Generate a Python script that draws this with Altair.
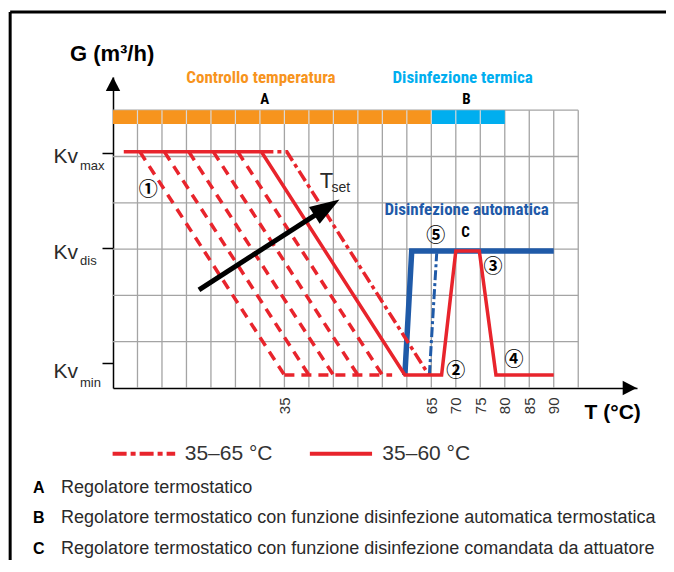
import altair as alt
import pandas as pd

# ---------------- values ----------------
X_TICKS = [35, 65, 70, 75, 80, 85, 90]
KV_NAMES = ["max", "dis", "min"]
KV_LEVELS = [5.08, 3.03, 0.53]

GRID_COLS = list(range(5, 100, 5))
GRID_ROWS = [1, 2, 3, 4, 5, 6]
GRID_T_MAX = 95
GRID_G_MAX = 6

BAND_LABELS = ["Controllo temperatura", "Disinfezione termica"]
BAND_LETTERS = ["A", "B"]
BAND_FROM = [0, 65]
BAND_TO = [65, 80]
BAND_LOW = 5.70
BAND_HIGH = 6.0

# 35-60 °C setting + actuator disinfection (solid red)
SOLID_T = [2.2, 30.3, 59.6, 67.1, 70.0, 74.8, 78.2, 90.0]
SOLID_G = [5.10, 5.10, 0.28, 0.28, 2.96, 2.96, 0.28, 0.28]
# 35-65 °C setting (dash-dot red)
DASHDOT_T = [30.3, 35.5, 64.5]
DASHDOT_G = [5.10, 5.10, 0.28]
# intermediate settings (dashed red)
DASHED_TOP_T = [5.5, 10.5, 15.5, 20.5, 25.5]
DASHED_BOTTOM_T = [35, 40, 45, 50, 55]
DASHED_TOP_G = 5.10
DASHED_BOTTOM_G = 0.28
DASHED_FLOOR_T = [35, 57]
# automatic thermal disinfection (blue)
BLUE_T = [59.6, 61.0, 90.0]
BLUE_G = [0.28, 2.96, 2.96]
BLUE_DD_T = [64.6, 66.1]
BLUE_DD_G = [0.28, 2.91]
# T_set arrow
TSET_T = [17.55, 43.4]
TSET_G = [2.12, 3.88]

CIRCLED = ["①", "②", "③", "④", "⑤"]
CIRCLED_T = [7.2, 70.0, 77.6, 81.9, 65.9]
CIRCLED_G = [4.28, 0.37, 2.62, 0.60, 3.29]

LEGEND_TEXT = ["35–65 °C", "35–60 °C"]
NOTES_LETTER = ["A", "B", "C"]
NOTES_TEXT = [
    "Regolatore termostatico",
    "Regolatore termostatico con funzione disinfezione automatica termostatica",
    "Regolatore termostatico con funzione disinfezione comandata da attuatore",
]

RED = "#E8242C"
BLUE = "#1F5AA8"
ORANGE = "#F7941D"
LBLUE = "#00AEEF"
GRID = "#A4A4A4"
TXT = "#2a2a2a"
NARROW = ("Liberation Sans Narrow, Noto Sans ExtraCondensed, Noto Sans Condensed, "
          "Roboto Condensed, Arial Narrow, DejaVu Sans Condensed, sans-serif")
SANS = "Liberation Sans, Arial, Helvetica, sans-serif"

# ---------------- scales / axes ----------------
SX = alt.Scale(domain=[0, 107], nice=False, zero=False)
SY = alt.Scale(domain=[0, 6.717], nice=False, zero=False)
AX = alt.Axis(values=X_TICKS, labelAngle=270, ticks=False, grid=False,
              domainColor="black", domainWidth=1.5, labelFontSize=15,
              labelColor="#333333", labelFont=SANS, labelPadding=9,
              labelFlush=False, labelOverlap=False, title=None)
AY = alt.Axis(values=KV_LEVELS, labels=False, ticks=True, tickColor="black",
              tickSize=11, tickWidth=1.5, grid=False, domainColor="black",
              domainWidth=1.5, title=None)


def X(f="T"):
    return alt.X(f + ":Q", scale=SX, axis=AX, title=None)


def Y(f="G"):
    return alt.Y(f + ":Q", scale=SY, axis=AY, title=None)


def line_df(ts, gs, key=0):
    return pd.DataFrame({"T": ts, "G": gs, "i": list(range(len(ts))), "k": [key] * len(ts)})


layers = []

# grid
vgrid = pd.DataFrame({"T": GRID_COLS, "G": [0] * len(GRID_COLS), "G2": [GRID_G_MAX] * len(GRID_COLS)})
hgrid = pd.DataFrame({"G": GRID_ROWS, "T": [0] * len(GRID_ROWS), "T2": [GRID_T_MAX] * len(GRID_ROWS)})
layers.append(alt.Chart(vgrid).mark_rule(color=GRID, strokeWidth=1.3).encode(x=X(), y=Y(), y2="G2:Q"))
layers.append(alt.Chart(hgrid).mark_rule(color=GRID, strokeWidth=1.3).encode(y=Y(), x=X(), x2="T2:Q"))

# band
band = pd.DataFrame({"T": BAND_FROM, "T2": BAND_TO, "G": [BAND_LOW] * 2, "G2": [BAND_HIGH] * 2,
                     "c": [ORANGE, LBLUE]})
layers.append(alt.Chart(band).mark_rect().encode(x=X(), x2="T2:Q", y=Y(), y2="G2:Q",
                                                  color=alt.Color("c:N", scale=None)))
sep_t = [t for t in GRID_COLS if t < BAND_TO[-1]]
sep = pd.DataFrame({"T": sep_t, "G": [BAND_LOW] * len(sep_t), "G2": [BAND_HIGH] * len(sep_t)})
layers.append(alt.Chart(sep).mark_rule(color="#d8d8d8", strokeWidth=1.2).encode(x=X(), y=Y(), y2="G2:Q"))

# blue (under the red lines)
layers.append(alt.Chart(line_df(BLUE_T, BLUE_G)).mark_line(color=BLUE, strokeWidth=5.5)
              .encode(x=X(), y=Y(), order="i:Q"))
layers.append(alt.Chart(line_df(BLUE_DD_T, BLUE_DD_G)).mark_line(color=BLUE, strokeWidth=3,
                                                                 strokeDash=[10, 3, 3, 3])
              .encode(x=X(), y=Y(), order="i:Q"))

# dashed settings
dashed = pd.concat([line_df([a, b], [DASHED_TOP_G, DASHED_BOTTOM_G], k)
                    for k, (a, b) in enumerate(zip(DASHED_TOP_T, DASHED_BOTTOM_T))] +
                   [line_df(DASHED_FLOOR_T, [DASHED_BOTTOM_G] * 2, 99)])
layers.append(alt.Chart(dashed).mark_line(color=RED, strokeWidth=3.5, strokeDash=[10, 7])
              .encode(x=X(), y=Y(), order="i:Q", detail="k:N"))

# dash-dot 35-65
layers.append(alt.Chart(line_df(DASHDOT_T, DASHDOT_G)).mark_line(color=RED, strokeWidth=3.5,
                                                                 strokeDash=[12, 4, 4, 4])
              .encode(x=X(), y=Y(), order="i:Q"))
# solid 35-60
layers.append(alt.Chart(line_df(SOLID_T, SOLID_G)).mark_line(color=RED, strokeWidth=3.5)
              .encode(x=X(), y=Y(), order="i:Q"))

# T_set arrow
layers.append(alt.Chart(line_df(TSET_T, TSET_G)).mark_line(color="black", strokeWidth=5)
              .encode(x=X(), y=Y(), order="i:Q"))
layers.append(alt.Chart(pd.DataFrame({"T": [TSET_T[1]], "G": [TSET_G[1]]}))
              .mark_point(shape="M0,-1L0.6,0.8L-0.6,0.8Z", filled=True, size=1100, angle=57.5,
                          color="black", opacity=1, strokeWidth=0)
              .encode(x=X(), y=Y()))

# axis arrows
layers.append(alt.Chart(pd.DataFrame({"T": [0], "G": [6.544]}))
              .mark_point(shape="M0,-1L0.9,0.75L-0.9,0.75Z", filled=True, size=256, angle=0,
                          color="black", opacity=1, strokeWidth=0)
              .encode(x=X(), y=Y()))
layers.append(alt.Chart(pd.DataFrame({"T": [105.3], "G": [0]}))
              .mark_point(shape="M0,-1L0.9,0.75L-0.9,0.75Z", filled=True, size=256, angle=90,
                          color="black", opacity=1, strokeWidth=0)
              .encode(x=X(), y=Y()))


# ---------------- texts ----------------
def text_layer(df, **kw):
    return alt.Chart(df).mark_text(**kw).encode(x=X(), y=Y(), text="txt:N")


layers.append(text_layer(pd.DataFrame({"T": [-8.8], "G": [7.06], "txt": ["G (m³/h)"]}),
                         align="left", baseline="alphabetic", font=SANS, fontSize=22,
                         fontWeight="bold", color="black"))
layers.append(text_layer(pd.DataFrame({"T": [96.3], "G": [-0.66], "txt": ["T (°C)"]}),
                         align="left", baseline="alphabetic", font=SANS, fontSize=21,
                         fontWeight="bold", color="black"))

heads = pd.DataFrame({"T": [30.2, 71.4, 72.2], "G": [6.69, 6.69, 3.85],
                      "txt": BAND_LABELS + ["Disinfezione automatica"],
                      "c": [ORANGE, LBLUE, BLUE]})
layers.append(alt.Chart(heads).mark_text(align="center", baseline="middle", font=NARROW,
                                         fontSize=17, fontWeight="bold")
              .encode(x=X(), y=Y(), text="txt:N", color=alt.Color("c:N", scale=None)))
letters = pd.DataFrame({"T": [31.0, 72.2, 72.0], "G": [6.24, 6.24, 3.36],
                        "txt": BAND_LETTERS + ["C"]})
layers.append(text_layer(letters, align="center", baseline="middle", font=NARROW, fontSize=15,
                         fontWeight="bold", color="black"))

circ = pd.DataFrame({"T": CIRCLED_T, "G": CIRCLED_G, "txt": CIRCLED})
layers.append(text_layer(circ, align="center", baseline="middle",
                         font="Noto Sans CJK JP, DejaVu Sans, sans-serif", fontSize=19,
                         fontWeight="bold", color="black"))

layers.append(text_layer(pd.DataFrame({"T": [42.2], "G": [4.31], "txt": ["T"]}),
                         align="left", baseline="alphabetic", font=SANS, fontSize=22, color=TXT))
layers.append(text_layer(pd.DataFrame({"T": [44.6], "G": [4.23], "txt": ["set"]}),
                         align="left", baseline="alphabetic", font=SANS, fontSize=14, color=TXT))

kv = pd.DataFrame({"T": [-7.14] * 3, "G": [4.87, 2.78, 0.21], "txt": ["Kv"] * 3})
layers.append(text_layer(kv, align="right", baseline="alphabetic", font=SANS, fontSize=21, color=TXT))
kvs = pd.DataFrame({"T": [-6.73] * 3, "G": [4.71, 2.66, 0.03], "txt": KV_NAMES})
layers.append(text_layer(kvs, align="left", baseline="alphabetic", font=SANS, fontSize=13, color=TXT))

# legend
layers.append(alt.Chart(line_df([-0.08, 12.7], [-1.42, -1.42])).mark_line(
    color=RED, strokeWidth=4, strokeDash=[14, 4, 5, 4]).encode(x=X(), y=Y(), order="i:Q"))
layers.append(alt.Chart(line_df([40.2, 52.9], [-1.42, -1.42])).mark_line(
    color=RED, strokeWidth=4).encode(x=X(), y=Y(), order="i:Q"))
leg = pd.DataFrame({"T": [14.65, 55.0], "G": [-1.42, -1.42], "txt": LEGEND_TEXT})
layers.append(text_layer(leg, align="left", baseline="middle", font=SANS, fontSize=21, color="#333333"))

# notes
nl = pd.DataFrame({"T": [-16.33] * 3, "G": [-2.16, -2.81, -3.48], "txt": NOTES_LETTER})
layers.append(text_layer(nl, align="left", baseline="middle", font=SANS, fontSize=16,
                         fontWeight="bold", color="black"))
nt = pd.DataFrame({"T": [-10.6] * 3, "G": [-2.16, -2.81, -3.48], "txt": NOTES_TEXT})
layers.append(text_layer(nt, align="left", baseline="middle", font=SANS, fontSize=18, color=TXT))

# frame
fr_v = pd.DataFrame({"T": [-21.0], "G": [8.12], "G2": [-3.8]})
fr_h = pd.DataFrame({"T": [-21.0], "T2": [113.0], "G": [8.12]})
layers.append(alt.Chart(fr_v).mark_rule(color="black", strokeWidth=3).encode(x=X(), y=Y(), y2="G2:Q"))
layers.append(alt.Chart(fr_h).mark_rule(color="black", strokeWidth=3).encode(x=X(), x2="T2:Q", y=Y()))

chart = alt.layer(*layers).properties(
    width=524, height=311,
    autosize=alt.AutoSizeParams(type="none"),
    padding={"left": 105, "top": 69, "right": 29, "bottom": 172},
).configure_view(strokeWidth=0)

chart.save("out.html", embed_options={"renderer": "svg", "actions": False})
